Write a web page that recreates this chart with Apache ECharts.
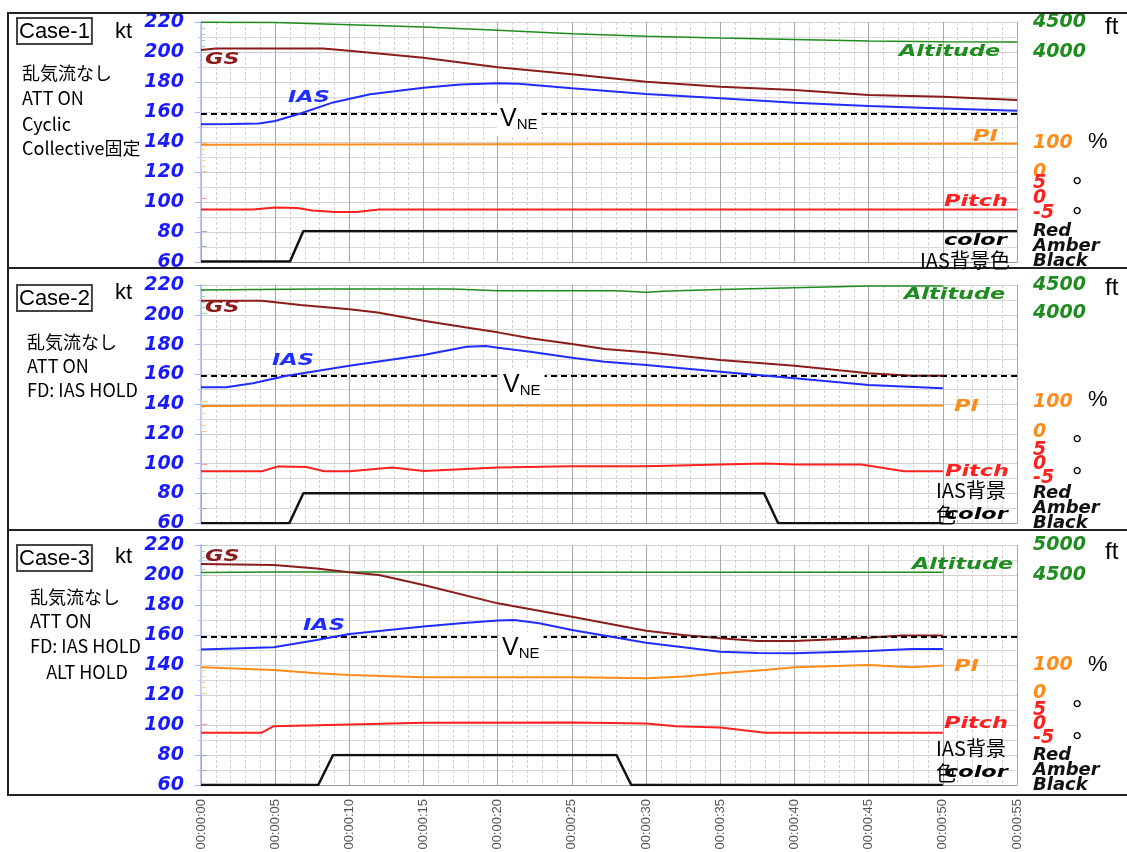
<!DOCTYPE html>
<html>
<head>
<meta charset="utf-8">
<script src="https://cdn.jsdelivr.net/npm/echarts@6/dist/echarts.min.js"></script>
<style>
  html, body { margin: 0; padding: 0; background: #fff; }
  #chart { width: 1127px; height: 852px; }
</style>
</head>
<body>
<div id="chart"></div>
<script>
// ---------- flight recorder data (time in seconds) ----------
const V_NE = 159; // kt
const colorLevels = ['Black', 'Amber', 'Red'];

// Case-1
const c1IasT = [0, 2, 3.9, 5, 6.7, 8.9, 11.4, 15, 17.5, 20, 21.4, 25, 30, 35, 40, 45, 50, 55];
const c1IasV = [151.8, 152, 152.4, 154, 159, 166.4, 171.8, 176.2, 178.4, 179.1, 178.9, 175.8, 172, 169.1, 166.2, 164, 162.4, 160.8];
const c1GsT = [0, 1, 8.2, 10, 15, 20, 25, 30, 35, 40, 45, 50, 55];
const c1GsV = [201.3, 202.4, 202.4, 200.9, 196.2, 189.8, 185.1, 180.2, 176.9, 174.7, 171.3, 170.2, 168];
const c1AltT = [0, 5, 10, 15, 20, 25, 30, 35, 40, 45, 50, 55];
const c1AltV = [4495, 4490, 4455, 4417, 4362, 4305, 4262, 4233, 4207, 4183, 4170, 4167];
const c1PiT = [0, 8, 20, 40, 55];
const c1PiV = [95, 96, 97, 97.5, 98];
const c1PitchT = [0, 3.5, 5, 6.5, 7.5, 9, 10.5, 12, 55];
const c1PitchV = [-3.7, -3.7, -3.0, -3.2, -4.0, -4.5, -4.5, -3.7, -3.7];
const c1ColorT = [0, 6, 6.9, 55];
const c1ColorV = ['Black', 'Black', 'Red', 'Red'];

// Case-2
const c2IasT = [0, 1.7, 3.5, 5.7, 10, 15, 17.9, 19.2, 20, 22.2, 25, 27.2, 30, 35, 40, 45, 50];
const c2IasV = [151.3, 151.3, 154, 158.9, 165.8, 173, 178.6, 179, 177.9, 175.2, 171.2, 168.5, 166.3, 161.8, 157.4, 152.9, 150.7];
const c2GsT = [0, 4.1, 6.7, 10, 11.9, 15, 18, 20, 22.2, 25, 27.2, 30, 35, 40, 45, 47.9, 50];
const c2GsV = [209.5, 209.5, 206.6, 203.7, 201.5, 196, 191.3, 188.2, 184.2, 180.4, 177, 174.8, 169.7, 165.8, 160.7, 159.1, 159];
const c2AltT = [0, 7.8, 17, 20, 28, 30, 31.5, 35, 40, 45, 50];
const c2AltV = [4412, 4429, 4429, 4400, 4400, 4371, 4395, 4420, 4453, 4482, 4482];
const c2PiT = [0, 10, 20, 30, 40, 50];
const c2PiV = [86, 87, 87, 88, 87, 87];
const c2PitchT = [0, 4.1, 5.2, 7.1, 8.3, 10, 12.9, 15, 20, 25, 30, 35, 38, 40, 44.5, 47.4, 50];
const c2PitchV = [-2.5, -2.5, -0.8, -1, -2.5, -2.5, -1.2, -2.4, -1.2, -0.7, -0.7, -0.1, 0.2, -0.1, -0.1, -2.5, -2.5];
const c2ColorT = [0, 5.95, 6.9, 37.95, 38.9, 50];
const c2ColorV = ['Black', 'Black', 'Red', 'Red', 'Black', 'Black'];

// Case-3
const c3IasT = [0, 4.9, 7.8, 10, 15, 17.5, 20, 21.1, 22.8, 25, 30, 35, 37.5, 40, 45, 47.9, 50];
const c3IasV = [150.4, 151.8, 156.7, 160.7, 165.6, 167.8, 169.6, 170, 167.8, 163.3, 154.9, 148.9, 148, 147.8, 149.3, 150.7, 150.7];
const c3GsT = [0, 4.9, 7.8, 10, 12, 15, 20, 22.5, 25, 30, 32.5, 35, 37.5, 40, 45, 47.2, 50];
const c3GsV = [207.3, 206.7, 204.4, 201.8, 200, 193.3, 181.1, 176.7, 172.2, 162.9, 160, 157.8, 156, 156, 158.2, 159.6, 159.6];
const c3AltT = [0, 5, 15, 25, 35, 50];
const c3AltV = [4540, 4548, 4548, 4545, 4545, 4545];
const c3PiT = [0, 4.9, 7.8, 10, 15, 25, 30, 32.5, 35, 38, 40, 45, 47.9, 50];
const c3PiV = [92, 82, 71, 65, 56.5, 56.5, 53, 59, 71, 82, 92, 100, 92, 98];
const c3PitchT = [0, 4.1, 4.9, 10, 15, 25, 30, 32, 35, 38, 50];
const c3PitchV = [-3, -3, -0.7, -0.1, 0.5, 0.6, 0.2, -0.7, -1.2, -3, -3];
const c3ColorT = [0, 7.9, 8.9, 28, 29, 50];
const c3ColorV = ['Black', 'Black', 'Red', 'Red', 'Black', 'Black'];

// ---------- texts ----------
const caseNames = ['Case-1', 'Case-2', 'Case-3'];
const c1Notes = ['乱気流なし', 'ATT ON', 'Cyclic', 'Collective固定'];
const c2Notes = ['乱気流なし', 'ATT ON', 'FD: IAS HOLD'];
const c3Notes = ['乱気流なし', 'ATT ON', 'FD: IAS HOLD', '    ALT HOLD'];
const altRanges = [[4000, 4500], [4000, 4500], [4500, 5000]];

// ---------- colours ----------
const IAS_C = '#1f2dff', GS_C = '#8b1c1c', ALT_C = '#1e8c1e', PI_C = '#ff8c1a', PITCH_C = '#ff2020', COLOR_C = '#111';

// ---------- layout (pixel rows of each sub-scale) ----------
const GRID_LEFT = 201, GRID_RIGHT = 110;
const layouts = [
  { kt: [22, 262], alt: [22, 52], pi: [143.3, 171.7], pitch: [183.5, 213.5], color: [231, 261.5] },
  { kt: [285, 523.3], alt: [285, 313.3], pi: [401.7, 431.7], pitch: [450, 478.3], color: [493.3, 523.3] },
  { kt: [545, 785], alt: [545, 575], pi: [665, 693.3], pitch: [710, 738.3], color: [755, 785] }
];
const frames = [[13, 268], [268, 530], [530, 795]];

const pair = (t, v) => t.map((x, k) => [x, v[k]]);

const panelSeries = [
  { ias: pair(c1IasT, c1IasV), gs: pair(c1GsT, c1GsV), alt: pair(c1AltT, c1AltV), pi: pair(c1PiT, c1PiV), pitch: pair(c1PitchT, c1PitchV), color: pair(c1ColorT, c1ColorV) },
  { ias: pair(c2IasT, c2IasV), gs: pair(c2GsT, c2GsV), alt: pair(c2AltT, c2AltV), pi: pair(c2PiT, c2PiV), pitch: pair(c2PitchT, c2PitchV), color: pair(c2ColorT, c2ColorV) },
  { ias: pair(c3IasT, c3IasV), gs: pair(c3GsT, c3GsV), alt: pair(c3AltT, c3AltV), pi: pair(c3PiT, c3PiV), pitch: pair(c3PitchT, c3PitchV), color: pair(c3ColorT, c3ColorV) }
];

const axisFontBase = { fontStyle: 'italic', fontWeight: 'bold', fontFamily: 'DejaVu Sans', fontSize: 19 };
const timeLabel = s => '00:00:' + String(s).padStart(2, '0');
const plainNumber = v => String(v);

const grids = [], xAxes = [], yAxes = [], series = [];

function addGrid(top, bottom) {
  grids.push({ left: GRID_LEFT, right: GRID_RIGHT, top: top, height: bottom - top, outerBoundsMode: 'none' });
  return grids.length - 1;
}
function addY(cfg) {
  yAxes.push(cfg);
  return yAxes.length - 1;
}
function hiddenX(g) {
  xAxes.push({ gridIndex: g, type: 'value', min: 0, max: 55, show: false });
  return xAxes.length - 1;
}

function rightAxis(g, extra, color, lineColor, labelExtra) {
  return addY(Object.assign({
    gridIndex: g, type: 'value', position: 'right', offset: 6,
    axisLine: { show: true, lineStyle: { color: lineColor, width: 1.2 } },
    axisTick: { show: true, length: 6, lineStyle: { color: lineColor } },
    axisLabel: Object.assign({ color: color, margin: 10, formatter: plainNumber,
      showMinLabel: true, showMaxLabel: true, hideOverlap: false }, axisFontBase, labelExtra || {}),
    splitLine: { show: false }
  }, extra));
}

function line(xi, yi, data, color, width, name, extra) {
  series.push(Object.assign({
    type: 'line', name: name, xAxisIndex: xi, yAxisIndex: yi, data: data,
    showSymbol: false, symbol: 'none', clip: false, animation: false,
    lineStyle: { color: color, width: width }
  }, extra || {}));
}

layouts.forEach((L, p) => {
  const d = panelSeries[p];
  // main knots grid
  const g0 = addGrid(L.kt[0], L.kt[1]);
  xAxes.push({
    gridIndex: g0, type: 'value', min: 0, max: 55, interval: 5,
    axisLine: { show: true, onZero: false, lineStyle: { color: '#9a9a9a' } },
    axisTick: { show: false },
    axisLabel: p === 2
      ? { show: true, rotate: 90, color: '#555', fontSize: 13, fontFamily: 'Liberation Sans', margin: 14, formatter: timeLabel }
      : { show: false },
    splitLine: { show: true, lineStyle: { color: '#a8a8a8', width: 1 } },
    minorTick: { show: false, splitNumber: 5 },
    minorSplitLine: { show: true, lineStyle: { color: '#d2d2d2', type: [3, 2], width: 1 } }
  });
  const x0 = xAxes.length - 1;
  const y0 = addY({
    gridIndex: g0, type: 'value', min: 60, max: 220, interval: 20, position: 'left', offset: 5,
    axisLine: { show: true, lineStyle: { color: '#aab6ff', width: 1.5 } },
    axisTick: { show: true, length: 6, lineStyle: { color: '#aab6ff' } },
    minorTick: { show: true, splitNumber: 2, length: 3, lineStyle: { color: '#c4ccff' } },
    axisLabel: Object.assign({ color: '#1a1aff', margin: 12 }, axisFontBase),
    splitLine: { show: true, lineStyle: { color: '#d0d0d0' } },
    minorSplitLine: { show: true, lineStyle: { color: '#dadada' } }
  });
  line(x0, y0, d.gs, GS_C, 2, 'GS', { z: 4 });
  line(x0, y0, d.ias, IAS_C, 2, 'IAS', {
    z: 5,
    markLine: {
      silent: true, symbol: 'none', animation: false,
      label: { show: false },
      lineStyle: { color: '#000', type: [6, 4], width: 2 },
      data: [{ yAxis: V_NE }]
    }
  });

  // altitude
  const g1 = addGrid(L.alt[0], L.alt[1]);
  const x1 = hiddenX(g1);
  const y1 = rightAxis(g1, { min: altRanges[p][0], max: altRanges[p][1], interval: 500,
    minorTick: { show: true, splitNumber: 5, length: 4, lineStyle: { color: '#9fd49f' } } }, ALT_C, '#9fd49f');
  line(x1, y1, d.alt, ALT_C, 1.5, 'Altitude', { z: 3 });

  // power index
  const g2 = addGrid(L.pi[0], L.pi[1]);
  const x2 = hiddenX(g2);
  const y2 = rightAxis(g2, { min: 0, max: 100, interval: 100,
    minorTick: { show: true, splitNumber: 5, length: 4, lineStyle: { color: '#ffc98f' } } }, PI_C, '#ffc98f');
  line(x2, y2, d.pi, PI_C, 2, 'PI', { z: 3 });

  // pitch: the scale itself carries the centre label, a twin scale carries the end labels
  const g3 = addGrid(L.pitch[0], L.pitch[1]);
  const x3 = hiddenX(g3);
  const y3 = rightAxis(g3, { min: -5, max: 5, interval: 5 }, PITCH_C, '#ff9d9d',
    { showMinLabel: false, showMaxLabel: false });
  rightAxis(g3, { min: -5, max: 5, interval: 5, axisLine: { show: false }, axisTick: { show: false } },
    PITCH_C, '#ff9d9d');
  line(x3, y3, d.pitch, PITCH_C, 2, 'Pitch', { z: 3 });

  // IAS background colour state
  const g4 = addGrid(L.color[0], L.color[1]);
  const x4 = hiddenX(g4);
  const y4 = addY({
    gridIndex: g4, type: 'category', data: colorLevels, boundaryGap: false,
    position: 'right', offset: 6,
    axisLine: { show: true, lineStyle: { color: '#aaa', width: 1.2 } },
    axisTick: { show: true, length: 6, lineStyle: { color: '#aaa' } },
    axisLabel: Object.assign({ color: '#111', margin: 10, interval: 0, hideOverlap: false }, axisFontBase, { fontSize: 18 }),
    splitLine: { show: false }
  });
  line(x4, y4, d.color, COLOR_C, 2.5, 'color', { z: 3 });
});

// ---------- annotation texts ----------
const graphics = [];
const tagFont = 'italic bold 16px "DejaVu Sans"';
function tag(text, x, y, color) {
  graphics.push({ type: 'text', x: x, y: y, z: 100, scaleX: 1.4, silent: true,
    style: { text: text, fill: color, font: tagFont, textAlign: 'left', textVerticalAlign: 'middle' } });
}
function plain(text, x, y, size, family, color, extra) {
  graphics.push({ type: 'text', x: x, y: y, z: 100, silent: true,
    style: Object.assign({ text: text, fill: color || '#000', font: size + 'px ' + family, textAlign: 'left', textVerticalAlign: 'middle' }, extra || {}) });
}

// panel frames
frames.forEach(f => {
  graphics.push({ type: 'rect', z: 90, silent: true,
    shape: { x: 8, y: f[0], width: 1140, height: f[1] - f[0] },
    style: { fill: 'none', stroke: '#222', lineWidth: 2 } });
});

const caseBoxTops = [18, 285, 545];
const ktY = [32, 293, 557];
const noteX = [22, 27, 30];
const noteY = [[73, 98, 124, 148], [342, 366, 390], [597, 621, 646, 672]];
const notes = [c1Notes, c2Notes, c3Notes];
caseNames.forEach((name, p) => {
  graphics.push({ type: 'text', x: 17, y: caseBoxTops[p], z: 100, silent: true,
    style: { text: name, fill: '#000', font: '22px "Liberation Sans"', textAlign: 'left', textVerticalAlign: 'top',
      borderColor: '#444', borderWidth: 2, padding: [3, 2, 1, 2] } });
  plain('kt', 115, ktY[p], 22, '"Liberation Sans"');
  notes[p].forEach((t, k) => plain(t, noteX[p], noteY[p][k], 18, '"Noto Sans CJK JP"', '#000'));
});

// series names inside the plots
const tags = [
  [['GS', 205, 60, GS_C], ['IAS', 288, 98, IAS_C], ['Altitude', 899, 52, ALT_C], ['PI', 973, 137, PI_C], ['Pitch', 944, 202, PITCH_C], ['color', 944, 241, '#000']],
  [['GS', 205, 308, GS_C], ['IAS', 272, 361, IAS_C], ['Altitude', 904, 295, ALT_C], ['PI', 954, 407, PI_C], ['Pitch', 945, 472, PITCH_C], ['color', 945, 515, '#000']],
  [['GS', 205, 557, GS_C], ['IAS', 303, 626, IAS_C], ['Altitude', 912, 565, ALT_C], ['PI', 954, 667, PI_C], ['Pitch', 944, 724, PITCH_C], ['color', 945, 773, '#000']]
];
tags.forEach(list => list.forEach(t => tag(t[0], t[1], t[2], t[3])));

// IAS background colour caption
plain('IAS背景色', 920, 260, 20, '"Noto Sans CJK JP"', '#000');
plain('IAS背景', 936, 490, 20, '"Noto Sans CJK JP"', '#000');
plain('色', 936, 515, 20, '"Noto Sans CJK JP"', '#000');
plain('IAS背景', 936, 748, 20, '"Noto Sans CJK JP"', '#000');
plain('色', 936, 773, 20, '"Noto Sans CJK JP"', '#000');

// V_NE captions over the dashed limit line
const vneBoxes = [[497, 103], [500, 369], [499, 632]];
vneBoxes.forEach(b => {
  graphics.push({ type: 'text', x: b[0], y: b[1], z: 100, silent: true,
    style: {
      text: '{v|V}{s|NE}', textAlign: 'left', textVerticalAlign: 'top',
      backgroundColor: '#fff', padding: [3, 4, 4, 3], fill: '#000',
      rich: {
        v: { fontSize: 25, fontFamily: 'Liberation Sans', fill: '#000', lineHeight: 26 },
        s: { fontSize: 15, fontFamily: 'Liberation Sans', fill: '#000', lineHeight: 12, verticalAlign: 'bottom' }
      }
    } });
});

// units beside the right-hand scales
const ftY = [27, 288, 552], pctY = [142, 400, 665], degY = [[181.7, 212.3], [440, 471.7], [705, 736.7]];
[0, 1, 2].forEach(p => {
  plain('ft', 1105, ftY[p], 24, '"Liberation Sans"');
  plain('%', 1088, pctY[p], 22, '"Liberation Sans"');
  degY[p].forEach(y => plain('°', 1072, y + 6, 26, '"Liberation Sans"'));
});

const chart = echarts.init(document.getElementById('chart'), null, { renderer: 'canvas' });
chart.setOption({
  backgroundColor: '#fff',
  animation: false,
  grid: grids,
  xAxis: xAxes,
  yAxis: yAxes,
  series: series,
  graphic: graphics
});
</script>
</body>
</html>
